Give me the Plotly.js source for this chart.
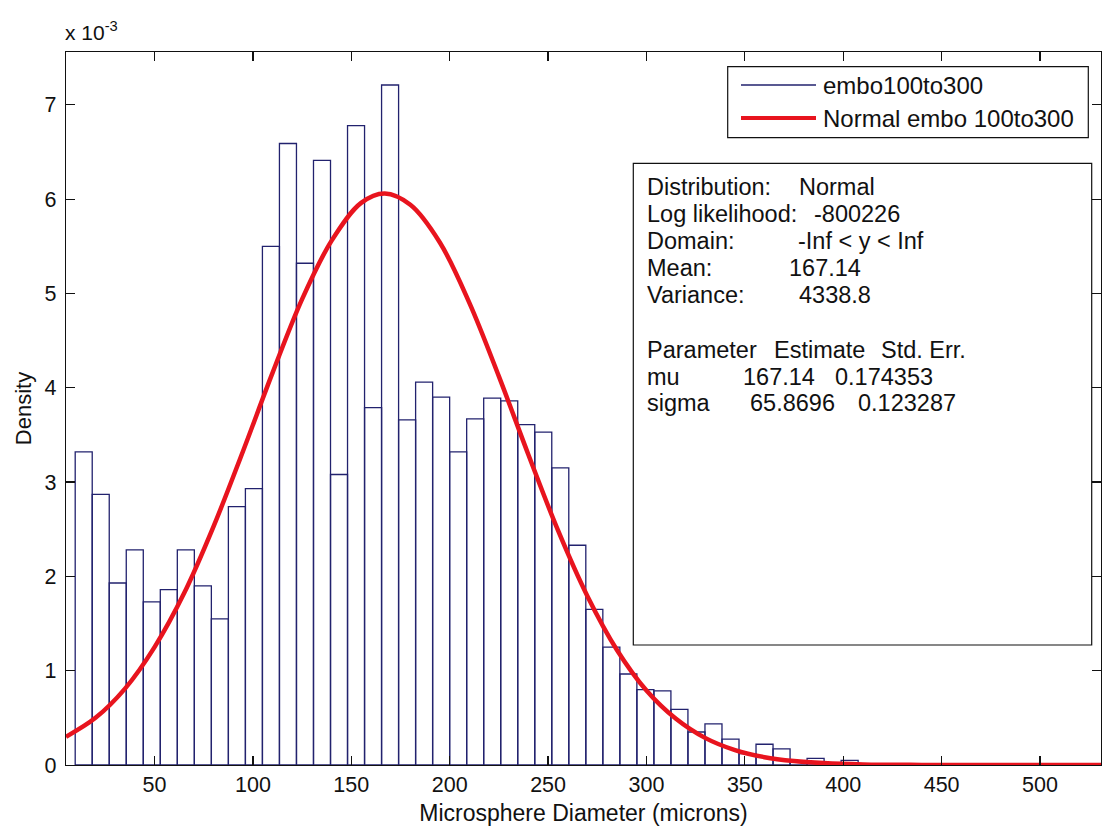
<!DOCTYPE html>
<html>
<head>
<meta charset="utf-8">
<script src="https://cdn.plot.ly/plotly-3.0.1.min.js"></script>
<style>html,body{margin:0;padding:0;background:#fff;}#chart{width:1102px;height:831px;}</style>
</head>
<body>
<div id="chart"></div>
<script>
// ---- data (density values in units of 1e-3) ----
const binCenters = [14.0, 22.65, 31.3, 39.95, 48.6, 57.25, 65.9, 74.55, 83.2, 91.85,
  100.5, 109.15, 117.8, 126.45, 135.1, 143.75, 152.4, 161.05, 169.7, 178.35,
  187.0, 195.65, 204.3, 212.95, 221.6, 230.25, 238.9, 247.55, 256.2, 264.85,
  273.5, 282.15, 290.8, 299.45, 308.1, 316.75, 325.4, 334.05, 342.7, 351.35,
  360.0, 368.65, 377.3, 385.95, 394.6, 403.25];
const binDensity = [3.32, 2.87, 1.93, 2.28, 1.73, 1.86, 2.28, 1.90, 1.55, 2.74,
  2.93, 5.50, 6.59, 5.32, 6.41, 3.08, 6.78, 3.79, 7.21, 3.66,
  4.06, 3.90, 3.32, 3.67, 3.89, 3.86, 3.61, 3.53, 3.15, 2.33,
  1.65, 1.25, 0.965, 0.80, 0.785, 0.59, 0.35, 0.435, 0.275, 0.12,
  0.22, 0.17, 0.04, 0.07, 0.01, 0.05];
const binWidth = 8.65;
const fitX = [5, 20, 35, 50, 65, 80, 95, 110, 125, 140, 155, 167, 180, 195, 210, 225,
  240, 255, 270, 285, 300, 315, 330, 345, 360, 375, 390, 410, 440, 480, 531];
const fitY = [0.30, 0.50, 0.81, 1.25, 1.82, 2.53, 3.33, 4.16, 4.94, 5.56, 5.96, 6.06,
  5.94, 5.54, 4.90, 4.12, 3.29, 2.49, 1.79, 1.22, 0.79, 0.49, 0.285, 0.158, 0.083,
  0.042, 0.020, 0.006, 0.001, 0.0, 0.0];
const xTicks = [50, 100, 150, 200, 250, 300, 350, 400, 450, 500];
const yTicks = [0, 1, 2, 3, 4, 5, 6, 7];
const seriesNames = ["embo100to300", "Normal embo 100to300"];
const statLabels = ["Distribution:", "Log likelihood:", "Domain:", "Mean:", "Variance:"];
const statValues = ["Normal", "-800226", "-Inf &lt; y &lt; Inf", "167.14", "4338.8"];
const paramHeader = ["Parameter", "Estimate", "Std. Err."];
const paramRows = [["mu", "167.14", "0.174353"], ["sigma", "65.8696", "0.123287"]];

// ---- layout helpers ----
const W = 1102, H = 831, L = 66, R = 1, T = 52, B = 66;
const PW = W - L - R, PH = H - T - B;
const px = x => (x - L) / PW;
const py = y => (H - B - y) / PH;
const FONT = "Liberation Sans, Arial, sans-serif";
const NAVY = "#22226e";
const RED = "#e8141e";

const traces = [
  {
    type: "bar", x: binCenters, y: binDensity, width: binWidth,
    name: seriesNames[0], showlegend: false,
    marker: {color: "rgba(255,255,255,0)", line: {color: NAVY, width: 1.3}},
    hoverinfo: "x+y"
  },
  {
    type: "scatter", mode: "lines", x: fitX, y: fitY, name: seriesNames[1],
    showlegend: false, cliponaxis: false,
    line: {color: RED, width: 4.5, shape: "spline", smoothing: 1}
  }
];

const ann = [];
const txt = (text, x, y, size, anchor) => ann.push({
  text: text, xref: "paper", yref: "paper", x: px(x), y: py(y),
  xanchor: anchor || "left", yanchor: "middle", showarrow: false,
  font: {family: FONT, size: size || 23, color: "#111"}
});

// exponent label
txt("x 10<sup>-3</sup>", 63, 31, 21);

// legend
txt(seriesNames[0], 821, 85, 24);
txt(seriesNames[1], 821, 118, 24);

// stats box
const FS = 23.5;
const rowY = [186.7, 214, 240.7, 268.3, 295];
const valX = [796.7, 811.7, 796, 786.7, 796.7];
statLabels.forEach((s, i) => { txt(s, 645, rowY[i], FS); txt(statValues[i], valX[i], rowY[i], FS); });
txt(paramHeader[0], 645, 350, FS);
txt(paramHeader[1], 771.7, 350, FS);
txt(paramHeader[2], 879.3, 350, FS);
const pRowY = [376.7, 403.3];
const pColX = [[645, 740.7, 832.7], [645, 748.3, 856]];
paramRows.forEach((r, i) => r.forEach((c, j) => txt(c, pColX[i][j], pRowY[i], FS)));

const shapes = [
  {type: "rect", xref: "paper", yref: "paper", x0: px(727.7), x1: px(1088.3), y0: py(137.7), y1: py(66.7),
   line: {color: "#111", width: 1.2}, fillcolor: "#fff", layer: "above"},
  {type: "line", xref: "paper", yref: "paper", x0: px(741), x1: px(816), y0: py(85), y1: py(85),
   line: {color: NAVY, width: 1.6}},
  {type: "line", xref: "paper", yref: "paper", x0: px(741), x1: px(816), y0: py(118), y1: py(118),
   line: {color: RED, width: 4}},
  {type: "rect", xref: "paper", yref: "paper", x0: px(633.3), x1: px(1091.7), y0: py(645), y1: py(163.3),
   line: {color: "#111", width: 1.2}, fillcolor: "#fff", layer: "above"}
];

const layout = {
  width: W, height: H,
  margin: {l: L, r: R, t: T, b: B, pad: 0},
  paper_bgcolor: "#fff", plot_bgcolor: "#fff",
  font: {family: FONT, size: 21, color: "#111"},
  showlegend: false,
  bargap: 0,
  xaxis: {
    range: [5, 531], tickvals: xTicks, ticktext: xTicks.map(String),
    ticks: "inside", ticklen: 9, tickcolor: "#111", tickwidth: 1.2,
    showline: true, linecolor: "#111", linewidth: 1.2, mirror: "ticks",
    showgrid: false, zeroline: false,
    tickfont: {family: FONT, size: 21.5, color: "#111"},
    title: {text: "Microsphere Diameter (microns)", font: {family: FONT, size: 23, color: "#111"}, standoff: 8}
  },
  yaxis: {
    range: [0, 7.56], tickvals: yTicks, ticktext: yTicks.map(String),
    ticks: "inside", ticklen: 9, tickcolor: "#111", tickwidth: 1.2,
    showline: true, linecolor: "#111", linewidth: 1.2, mirror: "ticks",
    showgrid: false, zeroline: false, ticklabelstandoff: 4,
    tickfont: {family: FONT, size: 21.5, color: "#111"},
    title: {text: "Density", font: {family: FONT, size: 22, color: "#111"}, standoff: 6}
  },
  annotations: ann,
  shapes: shapes
};

Plotly.newPlot("chart", traces, layout, {displayModeBar: false, staticPlot: true});
</script>
</body>
</html>
